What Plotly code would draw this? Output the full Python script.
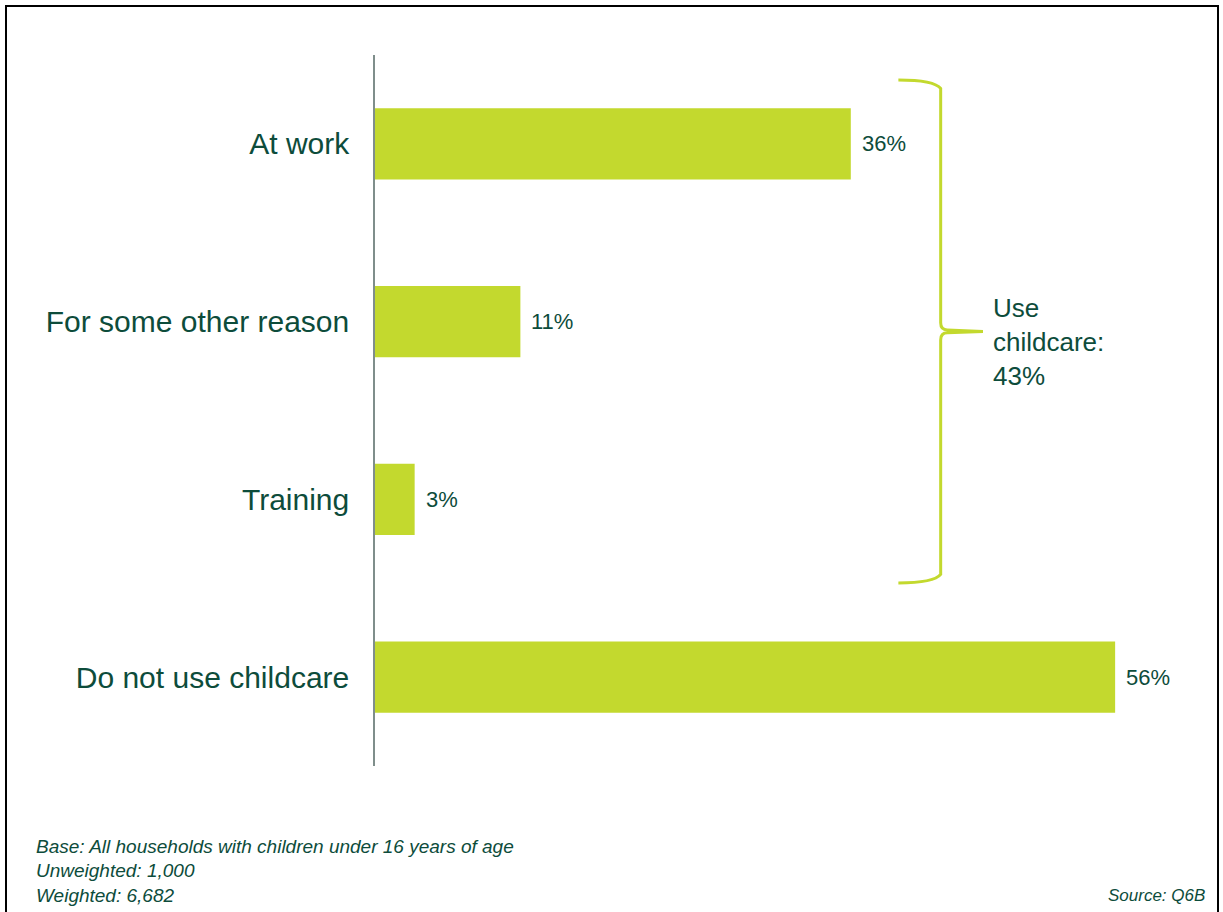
import plotly.graph_objects as go

# Reasons given for using childcare (share of households, %)
categories = ["At work", "For some other reason", "Training", "Do not use childcare"]
values = [36, 11, 3, 56]
value_labels = ["36%", "11%", "3%", "56%"]

# Grouping bracket over the childcare-using rows
bracket_rows = ["At work", "For some other reason", "Training"]
bracket_label = ["Use", "childcare:", "43%"]

footnotes = [
    "Base: All households with children under 16 years of age",
    "Unweighted: 1,000",
    "Weighted: 6,682",
]
source_note = "Source: Q6B"

BAR = "#c3d92e"
TEXT = "#0d4c3b"
AXIS = "#7f8e8b"
FONT = "Liberation Sans, Arial, sans-serif"

W, H = 1223, 912
M_L, M_R, M_T, M_B = 375, 55, 55, 146
PLOT_W = W - M_L - M_R
PLOT_H = H - M_T - M_B
X_MAX = 60
N = len(categories)


def to_paper_x(px):
    return (px - M_L) / PLOT_W


def to_paper_y(py):
    return (H - M_B - py) / PLOT_H


def data_x(v):
    return v / X_MAX


def data_y(idx):
    # category axis runs top-to-bottom
    return 1 - (idx + 0.5) / N


fig = go.Figure()
fig.add_trace(go.Bar(
    x=values,
    y=categories,
    orientation="h",
    marker=dict(color=BAR, line=dict(width=0)),
    hoverinfo="skip",
))

annotations = []
for cat, v, lab in zip(categories, values, value_labels):
    annotations.append(dict(
        x=v, y=cat, xref="x", yref="y", text=lab, showarrow=False,
        xanchor="left", yanchor="middle", xshift=9,
        font=dict(family=FONT, size=22, color=TEXT),
    ))

# Curly bracket spanning the first three rows
i0 = categories.index(bracket_rows[0])
i1 = categories.index(bracket_rows[-1])
top = data_y(i0 - 0.36)
bot = data_y(i1 + 0.47)
mid = (top + bot) / 2
x_arm = data_x(39.6)
x_spine = data_x(42.8)
x_tip = data_x(46.0)
r = 0.012
rx = data_x(0.5)
path = (
    f"M {x_arm},{top} "
    f"Q {x_spine - rx},{top} {x_spine},{top - r} "
    f"L {x_spine},{mid + r} "
    f"Q {x_spine},{mid + 0.002} {x_spine + rx},{mid + 0.002} "
    f"L {x_tip},{mid} "
    f"L {x_spine + rx},{mid - 0.002} "
    f"Q {x_spine},{mid - 0.002} {x_spine},{mid - r} "
    f"L {x_spine},{bot + r} "
    f"Q {x_spine - rx},{bot} {x_arm},{bot}"
)
shapes = [
    dict(type="path", path=path, xref="paper", yref="paper",
         line=dict(color=BAR, width=3), fillcolor="rgba(0,0,0,0)"),
    # frame around the whole slide
    dict(type="rect", xref="paper", yref="paper",
         x0=to_paper_x(6), x1=to_paper_x(1218),
         y0=to_paper_y(920), y1=to_paper_y(6),
         line=dict(color="black", width=2), fillcolor="rgba(0,0,0,0)"),
]

annotations.append(dict(
    x=to_paper_x(991), y=to_paper_y(342), xref="paper", yref="paper",
    text="<br>".join(bracket_label), showarrow=False, align="left",
    xanchor="left", yanchor="middle",
    font=dict(family=FONT, size=26, color=TEXT),
))

for k, line in enumerate(footnotes):
    annotations.append(dict(
        x=to_paper_x(34), y=to_paper_y(846 + 24.5 * k), xref="paper", yref="paper",
        text=f"<i>{line}</i>", showarrow=False, xanchor="left", yanchor="middle",
        font=dict(family=FONT, size=19, color=TEXT),
    ))

annotations.append(dict(
    x=to_paper_x(1207), y=to_paper_y(895), xref="paper", yref="paper",
    text=f"<i>{source_note}</i>", showarrow=False, xanchor="right", yanchor="middle",
    font=dict(family=FONT, size=17, color=TEXT),
))

fig.update_layout(
    width=W, height=H,
    margin=dict(l=M_L, r=M_R, t=M_T, b=M_B, pad=0),
    paper_bgcolor="white", plot_bgcolor="white",
    bargap=0.6,
    showlegend=False,
    xaxis=dict(range=[0, X_MAX], visible=False, fixedrange=True),
    yaxis=dict(
        categoryorder="array", categoryarray=categories,
        autorange="reversed",
        showline=True, linecolor=AXIS, linewidth=1.5,
        showgrid=False, zeroline=False, ticks="",
        ticklabelstandoff=18,
        tickfont=dict(family=FONT, size=30, color=TEXT),
        fixedrange=True,
    ),
    shapes=shapes,
    annotations=annotations,
)

fig.write_html("out.html")
